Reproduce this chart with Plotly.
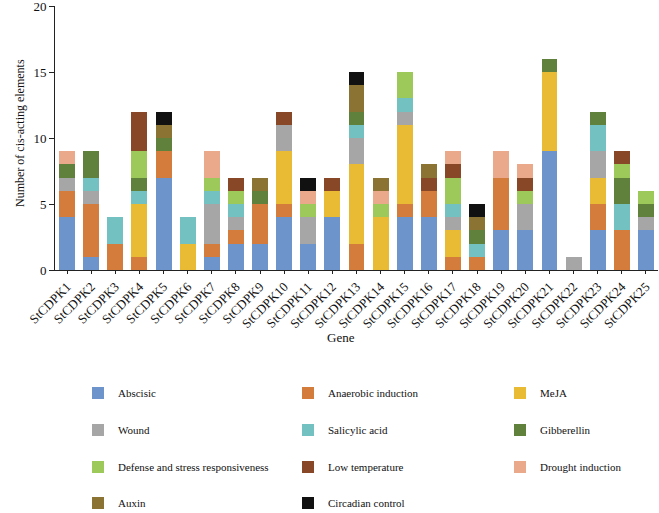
import plotly.graph_objects as go

genes = [f"StCDPK{i}" for i in range(1, 26)]

abscisic    = [4, 1, 0, 0, 7, 0, 1, 2, 2, 4, 2, 4, 0, 0, 4, 4, 0, 0, 3, 3, 9, 0, 3, 0, 3]
anaerobic   = [2, 4, 2, 1, 2, 0, 1, 1, 3, 1, 0, 0, 2, 0, 1, 2, 1, 1, 4, 0, 0, 0, 2, 3, 0]
meja        = [0, 0, 0, 4, 0, 2, 0, 0, 0, 4, 0, 2, 6, 4, 6, 0, 2, 0, 0, 0, 6, 0, 2, 0, 0]
wound       = [1, 1, 0, 0, 0, 0, 3, 1, 0, 2, 2, 0, 2, 0, 1, 0, 1, 0, 0, 2, 0, 1, 2, 0, 1]
salicylic   = [0, 1, 2, 1, 0, 2, 1, 1, 0, 0, 0, 0, 1, 0, 1, 0, 1, 1, 0, 0, 0, 0, 2, 2, 0]
gibberellin = [1, 2, 0, 1, 1, 0, 0, 0, 1, 0, 0, 0, 1, 0, 0, 0, 0, 1, 0, 0, 1, 0, 1, 2, 1]
defense     = [0, 0, 0, 2, 0, 0, 1, 1, 0, 0, 1, 0, 0, 1, 2, 0, 2, 0, 0, 1, 0, 0, 0, 1, 1]
low_temp    = [0, 0, 0, 3, 0, 0, 0, 1, 0, 1, 0, 1, 0, 0, 0, 1, 1, 0, 0, 1, 0, 0, 0, 1, 0]
drought     = [1, 0, 0, 0, 0, 0, 2, 0, 0, 0, 1, 0, 0, 1, 0, 0, 1, 0, 2, 1, 0, 0, 0, 0, 0]
auxin       = [0, 0, 0, 0, 1, 0, 0, 0, 1, 0, 0, 0, 2, 1, 0, 1, 0, 1, 0, 0, 0, 0, 0, 0, 0]
circadian   = [0, 0, 0, 0, 1, 0, 0, 0, 0, 0, 1, 0, 1, 0, 0, 0, 0, 1, 0, 0, 0, 0, 0, 0, 0]

names = ["Abscisic", "Anaerobic induction", "MeJA", "Wound", "Salicylic acid",
         "Gibberellin", "Defense and stress responsiveness", "Low temperature",
         "Drought induction", "Auxin", "Circadian control"]
values = [abscisic, anaerobic, meja, wound, salicylic, gibberellin, defense,
          low_temp, drought, auxin, circadian]
colors = ["#6D94CB", "#D47C3C", "#E9BA33", "#A6A6A6", "#74C1C1", "#5F813B",
          "#9DC95B", "#884727", "#E9A98A", "#8B7333", "#111111"]

FONT = "Times New Roman, Liberation Serif, serif"

# plot area in pixels
L, R, T, B = 55, 1, 6, 243
W, H = 659, 513
PW, PH = W - L - R, H - T - B

def px_x(x):
    return (x - L) / PW

def px_y(y):
    return (H - B - y) / PH

# legend grid (text start x / anchor y, in pixels)
col_text_x = [118, 328, 540]
row_y = [393, 430, 467, 503]

fig = go.Figure()
layout_legends = {}
for i, (name, vals, color) in enumerate(zip(names, values, colors)):
    lg = "legend" if i == 0 else f"legend{i + 1}"
    fig.add_trace(go.Bar(x=genes, y=vals, name=name, marker_color=color,
                         marker_line_width=0, legend=lg, showlegend=True))
    r, c = divmod(i, 3)
    layout_legends[lg] = dict(
        x=px_x(col_text_x[c] - 40), y=px_y(row_y[r]),
        xanchor="left", yanchor="middle", orientation="h",
        itemwidth=30, bgcolor="rgba(0,0,0,0)", borderwidth=0,
        font=dict(family=FONT, size=11, color="#111"))

fig.update_layout(
    width=W, height=H,
    showlegend=True,
    margin=dict(l=L, r=R, t=T, b=B, autoexpand=False),
    barmode="stack", bargap=0.34,
    plot_bgcolor="white", paper_bgcolor="white",
    font=dict(family=FONT, size=13, color="#111"),
    xaxis=dict(showline=True, linecolor="#222", linewidth=1, ticks="outside",
               ticklen=3, tickcolor="#222", tickangle=-45,
               tickfont=dict(family=FONT, size=13), showgrid=False),
    yaxis=dict(range=[0, 20], dtick=5, showline=True, linecolor="#222",
               linewidth=1, ticks="outside", ticklen=5, tickcolor="#222",
               showgrid=False, zeroline=False, ticklabeloverflow="allow",
               tickfont=dict(family=FONT, size=13)),
    annotations=[
        dict(text="Gene", x=px_x(341), y=px_y(347), xref="paper", yref="paper",
             showarrow=False, font=dict(family=FONT, size=13)),
        dict(text="Number of cis-acting elements", x=px_x(11), y=px_y(133),
             xref="paper", yref="paper", showarrow=False, textangle=-90,
             font=dict(family=FONT, size=12)),
    ],
    **layout_legends,
)

fig.write_html(
    "out.html",
    config={"displayModeBar": False},
    post_script="document.body.style.margin='0';document.body.style.padding='0';"
                "document.body.style.overflow='hidden';",
)
